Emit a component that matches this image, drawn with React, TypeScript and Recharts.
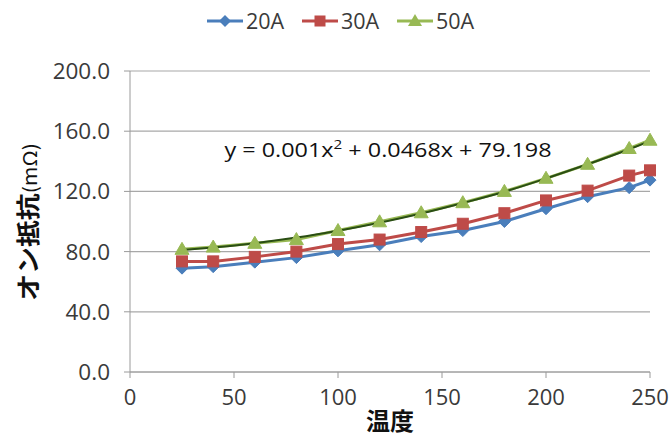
import React from "react";
import { LineChart, Line, XAxis, YAxis, CartesianGrid } from "recharts";

const temperatures = [25, 40, 60, 80, 100, 120, 140, 160, 180, 200, 220, 240, 250];
const series20A = [69, 70, 73, 76, 80.5, 84.5, 90, 94, 100, 108.5, 116.5, 122.5, 127.5];
const series30A = [73.5, 73.5, 76.5, 80, 85, 88, 93, 98.5, 105.5, 114, 120.5, 130.5, 134];
const series50A = [81.5, 83, 85.5, 88, 94, 99.8, 105.8, 112.5, 120, 128.7, 138, 148.5, 154];
const trend50A = [81.0, 82.7, 85.6, 89.3, 93.9, 99.2, 105.3, 112.3, 119.8, 128.6, 138.0, 148.0, 153.4];
const xTicks = [0, 50, 100, 150, 200, 250];
const yTicks = [0, 40, 80, 120, 160, 200];
const seriesNames = ["20A", "30A", "50A"];
const trendText = ["y = 0.001x", "2", " + 0.0468x + 79.198"];
const xTitle = "温度";
const yTitleMain = "オン抵抗";
const yTitleUnit = "(mΩ)";

const BLUE = "#4A7EBB";
const RED = "#BE4B48";
const GREEN = "#98B954";
const TREND = "#2A4E14";
const TEXT = "#3a3a3a";
const FONT = "'Open Sans', 'Noto Sans', sans-serif";
const CJK = "'Noto Sans CJK JP', 'Noto Sans', sans-serif";

const data = temperatures.map((t, i) => ({
  t,
  a20: series20A[i],
  a30: series30A[i],
  a50: series50A[i],
  trend: trend50A[i],
}));

const Diamond = (props: any) => {
  const { cx, cy } = props;
  if (cx == null || cy == null) return null;
  return <polygon points={`${cx},${cy - 6} ${cx + 6},${cy} ${cx},${cy + 6} ${cx - 6},${cy}`} fill={BLUE} stroke={BLUE} strokeWidth={1} />;
};
const Square = (props: any) => {
  const { cx, cy } = props;
  if (cx == null || cy == null) return null;
  return <rect x={cx - 5.5} y={cy - 5.5} width={11} height={11} fill={RED} stroke={RED} strokeWidth={1} />;
};
const Triangle = (props: any) => {
  const { cx, cy } = props;
  if (cx == null || cy == null) return null;
  return <polygon points={`${cx},${cy - 7} ${cx + 7},${cy + 5} ${cx - 7},${cy + 5}`} fill={GREEN} stroke={GREEN} strokeWidth={1} />;
};

const LegendRow = () => {
  const items = [
    { name: seriesNames[0], color: BLUE, x: 207, kind: "d" },
    { name: seriesNames[1], color: RED, x: 302, kind: "s" },
    { name: seriesNames[2], color: GREEN, x: 397, kind: "t" },
  ];
  const y = 21;
  return (
    <g>
      {items.map((it) => {
        const mx = it.x + 18;
        return (
          <g key={it.name}>
            <line x1={it.x} y1={y} x2={it.x + 36} y2={y} stroke={it.color} strokeWidth={3} />
            {it.kind === "d" && <polygon points={`${mx},${y - 6} ${mx + 6},${y} ${mx},${y + 6} ${mx - 6},${y}`} fill={it.color} />}
            {it.kind === "s" && <rect x={mx - 5.5} y={y - 5.5} width={11} height={11} fill={it.color} />}
            {it.kind === "t" && <polygon points={`${mx},${y - 7} ${mx + 7},${y + 5} ${mx - 7},${y + 5}`} fill={it.color} />}
            <text x={it.x + 39} y={y + 7.5} fontFamily={FONT} fontSize={21.5} fill={TEXT}>{it.name}</text>
          </g>
        );
      })}
    </g>
  );
};

export default function App() {
  return (
    <div style={{ position: "absolute", left: 0, top: 0, width: 671, height: 437, background: "#fff" }}>
      <LineChart
        width={671}
        height={437}
        data={data}
        margin={{ top: 71, right: 21, left: 0, bottom: 0 }}
      >
        <CartesianGrid horizontal={true} vertical={false} stroke="#a8a8a8" strokeWidth={1.2} />
        <XAxis
          dataKey="t"
          type="number"
          domain={[0, 250]}
          ticks={xTicks}
          interval={0}
          height={65}
          tickSize={6}
          tickMargin={11}
          stroke="#9a9a9a"
          tick={{ fontFamily: FONT, fontSize: 22, fill: TEXT }}
        />
        <YAxis
          type="number"
          domain={[0, 200]}
          ticks={yTicks}
          interval={0}
          width={130}
          tickSize={6}
          tickMargin={14}
          stroke="#9a9a9a"
          tickFormatter={(v: number) => v.toFixed(1)}
          tick={{ fontFamily: FONT, fontSize: 22.5, fill: TEXT }}
        />
        <Line dataKey="a20" name={seriesNames[0]} stroke={BLUE} strokeWidth={3} dot={<Diamond />} isAnimationActive={false} type="linear" />
        <Line dataKey="a30" name={seriesNames[1]} stroke={RED} strokeWidth={3} dot={<Square />} isAnimationActive={false} type="linear" />
        <Line dataKey="a50" name={seriesNames[2]} stroke={GREEN} strokeWidth={3} dot={<Triangle />} isAnimationActive={false} type="linear" />
        <Line dataKey="trend" stroke={TREND} strokeWidth={2} dot={false} isAnimationActive={false} type="monotone" legendType="none" />
      </LineChart>
      <svg width={671} height={437} style={{ position: "absolute", left: 0, top: 0, pointerEvents: "none" }}>
        <LegendRow />
        <text transform="translate(388,157) scale(1.17,1)" x={0} y={0} textAnchor="middle" fontFamily={FONT} fontSize={20} fill="#111">
          {trendText[0]}
          <tspan fontSize={13} dy={-8}>{trendText[1]}</tspan>
          <tspan dy={8}>{trendText[2]}</tspan>
        </text>
        <text x={390} y={430} textAnchor="middle" fontFamily={CJK} fontWeight="bold" fontSize={24} fill="#111">{xTitle}</text>
        <text transform="translate(37,222) rotate(-90) scale(1.12,1)" textAnchor="middle" fontFamily={CJK} fontWeight="bold" fontSize={24} fill="#111">
          {yTitleMain}
          <tspan fontSize={19} fontWeight="normal">{yTitleUnit}</tspan>
        </text>
      </svg>
    </div>
  );
}
